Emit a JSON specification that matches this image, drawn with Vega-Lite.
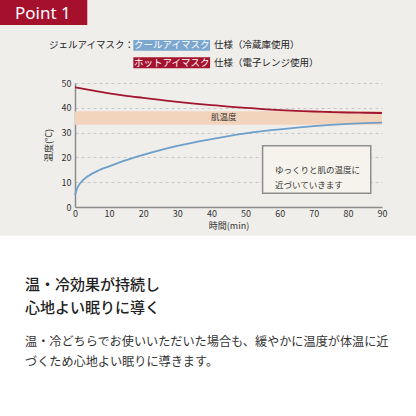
{
  "$schema": "https://vega.github.io/schema/vega-lite/v6.json",
  "width": 307,
  "height": 124,
  "autosize": {"type": "none"},
  "padding": {"left": 75, "top": 83, "right": 34, "bottom": 209},
  "background": "#efeeeb",
  "config": {
    "view": {"stroke": null},
    "font": "Noto Sans CJK JP",
    "axis": {
      "ticks": false,
      "domainColor": "#8c8c8c",
      "domainWidth": 1.5,
      "labelFontSize": 9,
      "labelColor": "#333333",
      "titleFontSize": 9,
      "titleFontWeight": "normal",
      "titleColor": "#333333"
    },
    "axisX": {"grid": false, "tickCount": 9, "labelFlush": false, "labelPadding": 2, "titlePadding": 3},
    "axisY": {"grid": true, "tickCount": 5, "gridDash": [3, 3], "gridColor": "#c8c8c8", "labelPadding": 4, "titlePadding": 8}
  },
  "layer": [
    {
      "data": {"values": [{"part": "lower"}]},
      "mark": {"type": "rect", "color": "#ffffff"},
      "encoding": {
        "x": {"datum": -25},
        "x2": {"datum": 105},
        "y": {"datum": -11.6},
        "y2": {"datum": -95}
      }
    },
    {
      "data": {"values": [{"label": "Point 1"}]},
      "layer": [
        {
          "mark": {"type": "rect", "color": "#a5102d"},
          "encoding": {
            "x": {"datum": -25},
            "x2": {"datum": 3.6},
            "y": {"datum": 90},
            "y2": {"datum": 73.4}
          }
        },
        {
          "mark": {"type": "text", "align": "left", "baseline": "middle", "font": "Noto Sans", "fontSize": 17, "color": "#ffffff"},
          "encoding": {
            "x": {"datum": -17.6},
            "y": {"datum": 77.8},
            "text": {"field": "label"}
          }
        }
      ]
    },
    {
      "data": {"values": [{"label": "ジェルアイマスク："}]},
      "mark": {"type": "text", "align": "left", "baseline": "middle", "fontSize": 9.5, "color": "#222222"},
      "encoding": {
        "x": {"datum": -7.6},
        "y": {"datum": 65.3},
        "text": {"field": "label"}
      }
    },
    {
      "data": {"values": [{"label": "クールアイマスク", "spec": "仕様（冷蔵庫使用）"}]},
      "layer": [
        {
          "mark": {"type": "rect", "color": "#7ba7cf"},
          "encoding": {
            "x": {"datum": 17.1},
            "x2": {"datum": 39.6},
            "y": {"datum": 67.3},
            "y2": {"datum": 63.0}
          }
        },
        {
          "mark": {"type": "text", "align": "center", "baseline": "middle", "fontSize": 9.5, "color": "#ffffff"},
          "encoding": {
            "x": {"datum": 28.35},
            "y": {"datum": 65.2},
            "text": {"field": "label"}
          }
        },
        {
          "mark": {"type": "text", "align": "left", "baseline": "middle", "fontSize": 9.5, "color": "#222222"},
          "encoding": {
            "x": {"datum": 40.75},
            "y": {"datum": 65.3},
            "text": {"field": "spec"}
          }
        }
      ]
    },
    {
      "data": {"values": [{"label": "ホットアイマスク", "spec": "仕様（電子レンジ使用）"}]},
      "layer": [
        {
          "mark": {"type": "rect", "color": "#a5142f"},
          "encoding": {
            "x": {"datum": 17.1},
            "x2": {"datum": 39.6},
            "y": {"datum": 60.4},
            "y2": {"datum": 55.9}
          }
        },
        {
          "mark": {"type": "text", "align": "center", "baseline": "middle", "fontSize": 9.5, "color": "#ffffff"},
          "encoding": {
            "x": {"datum": 28.35},
            "y": {"datum": 58.1},
            "text": {"field": "label"}
          }
        },
        {
          "mark": {"type": "text", "align": "left", "baseline": "middle", "fontSize": 9.5, "color": "#222222"},
          "encoding": {
            "x": {"datum": 40.75},
            "y": {"datum": 58.1},
            "text": {"field": "spec"}
          }
        }
      ]
    },
    {
      "data": {"values": [{"label": "肌温度", "low": 33.2, "high": 38.6}]},
      "layer": [
        {
          "mark": {"type": "rect", "color": "#f2d3bc"},
          "encoding": {
            "x": {"datum": 0},
            "x2": {"datum": 90},
            "y": {"field": "low", "type": "quantitative"},
            "y2": {"field": "high"}
          }
        },
        {
          "mark": {"type": "text", "align": "center", "baseline": "middle", "fontSize": 8.5, "color": "#333333"},
          "encoding": {
            "x": {"datum": 43.6},
            "y": {"datum": 36.2},
            "text": {"field": "label"}
          }
        }
      ]
    },
    {
      "data": {"values": [
        {"series": "hot", "t": 0, "temp": 48.3},
        {"series": "hot", "t": 5, "temp": 47.0},
        {"series": "hot", "t": 10, "temp": 45.8},
        {"series": "hot", "t": 15, "temp": 44.8},
        {"series": "hot", "t": 20, "temp": 44.0},
        {"series": "hot", "t": 25, "temp": 43.2},
        {"series": "hot", "t": 30, "temp": 42.4},
        {"series": "hot", "t": 35, "temp": 41.7},
        {"series": "hot", "t": 40, "temp": 41.1},
        {"series": "hot", "t": 45, "temp": 40.5},
        {"series": "hot", "t": 50, "temp": 40.0},
        {"series": "hot", "t": 55, "temp": 39.5},
        {"series": "hot", "t": 60, "temp": 39.1},
        {"series": "hot", "t": 65, "temp": 38.8},
        {"series": "hot", "t": 70, "temp": 38.5},
        {"series": "hot", "t": 75, "temp": 38.3},
        {"series": "hot", "t": 80, "temp": 38.1},
        {"series": "hot", "t": 85, "temp": 38.0},
        {"series": "hot", "t": 90, "temp": 37.9},
        {"series": "cool", "t": 0, "temp": 4.8},
        {"series": "cool", "t": 0.5, "temp": 7.0},
        {"series": "cool", "t": 1, "temp": 8.5},
        {"series": "cool", "t": 2, "temp": 10.3},
        {"series": "cool", "t": 4, "temp": 12.6},
        {"series": "cool", "t": 7, "temp": 14.8},
        {"series": "cool", "t": 10, "temp": 16.4},
        {"series": "cool", "t": 15, "temp": 18.9},
        {"series": "cool", "t": 20, "temp": 21.0},
        {"series": "cool", "t": 25, "temp": 22.9},
        {"series": "cool", "t": 30, "temp": 24.6},
        {"series": "cool", "t": 35, "temp": 26.1},
        {"series": "cool", "t": 40, "temp": 27.4},
        {"series": "cool", "t": 45, "temp": 28.6},
        {"series": "cool", "t": 50, "temp": 29.7},
        {"series": "cool", "t": 55, "temp": 30.6},
        {"series": "cool", "t": 60, "temp": 31.3},
        {"series": "cool", "t": 65, "temp": 32.0},
        {"series": "cool", "t": 70, "temp": 32.6},
        {"series": "cool", "t": 75, "temp": 33.1},
        {"series": "cool", "t": 80, "temp": 33.5},
        {"series": "cool", "t": 85, "temp": 33.8},
        {"series": "cool", "t": 90, "temp": 34.0}
      ]},
      "mark": {"type": "line", "interpolate": "monotone", "strokeWidth": 1.8},
      "encoding": {
        "x": {
          "field": "t",
          "type": "quantitative",
          "scale": {"domain": [0, 90], "nice": false, "zero": false},
          "axis": {"title": "時間(min)"}
        },
        "y": {
          "field": "temp",
          "type": "quantitative",
          "scale": {"domain": [0, 50], "nice": false, "zero": false},
          "axis": {"title": "温度(°C)"}
        },
        "color": {
          "field": "series",
          "type": "nominal",
          "scale": {"domain": ["hot", "cool"], "range": ["#a3162f", "#6e9fca"]},
          "legend": null
        }
      }
    },
    {
      "data": {"values": [{"lines": ["ゆっくりと肌の温度に", "近づいていきます"]}]},
      "layer": [
        {
          "mark": {"type": "rect", "fill": "#f6f3ec", "stroke": "#8e8e8e", "strokeWidth": 1.5},
          "encoding": {
            "x": {"datum": 55.0},
            "x2": {"datum": 86.7},
            "y": {"datum": 24.7},
            "y2": {"datum": 5.5}
          }
        },
        {
          "mark": {"type": "text", "align": "left", "baseline": "middle", "fontSize": 8.5, "lineHeight": 15.6, "color": "#333333"},
          "encoding": {
            "x": {"datum": 58.6},
            "y": {"datum": 15.1},
            "text": {"field": "lines"}
          }
        }
      ]
    },
    {
      "data": {"values": [{"lines": ["温・冷効果が持続し", "心地よい眠りに導く"]}]},
      "mark": {"type": "text", "align": "left", "baseline": "middle", "fontSize": 15, "fontWeight": 500, "lineHeight": 23.4, "color": "#222222"},
      "encoding": {
        "x": {"datum": -14.66},
        "y": {"datum": -31.45},
        "text": {"field": "lines"}
      }
    },
    {
      "data": {"values": [{"lines": ["温・冷どちらでお使いいただいた場合も、緩やかに温度が体温に近", "づくため心地よい眠りに導きます。"]}]},
      "mark": {"type": "text", "align": "left", "baseline": "middle", "fontSize": 12.15, "lineHeight": 20, "color": "#333333"},
      "encoding": {
        "x": {"datum": -14.66},
        "y": {"datum": -54.3},
        "text": {"field": "lines"}
      }
    }
  ]
}
